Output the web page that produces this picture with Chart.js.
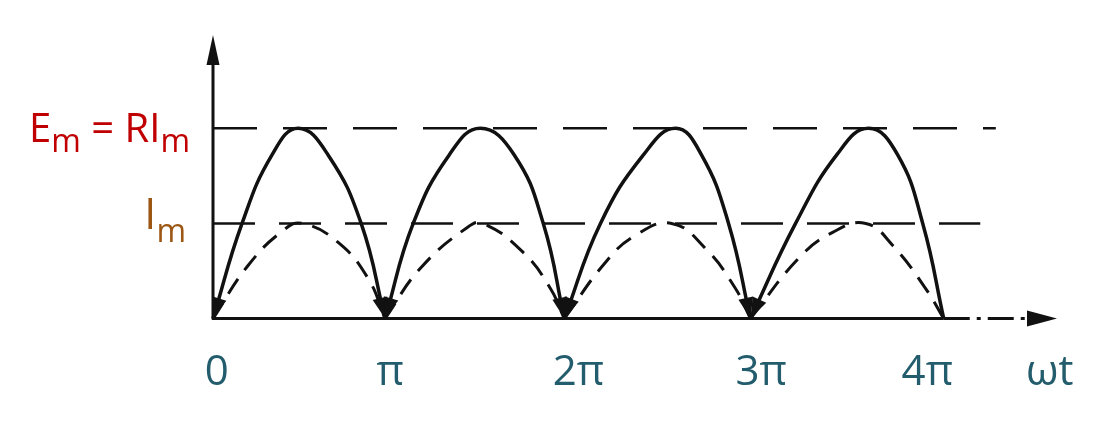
<!DOCTYPE html>
<html>
<head>
<meta charset="utf-8">
<script src="https://cdn.jsdelivr.net/npm/chart.js@4.4.0/dist/chart.umd.min.js"></script>
<style>
  html, body { margin: 0; padding: 0; background: #fff; }
</style>
</head>
<body>
<canvas id="chart" width="1117" height="431"></canvas>
<script>
// x in multiples of pi, y as a fraction of Em
// each arch starts and ends on its own zero point
var voltageX = [0, 0.159, 0.323, 0.466, 0.630, 0.811, 0.942,
  0.942, 1.096, 1.293, 1.463, 1.649, 1.808, 1.923,
  1.923, 2.121, 2.356, 2.532, 2.674, 2.822, 2.942,
  2.942, 3.189, 3.414, 3.589, 3.748, 3.885, 4.0];
var voltageY = [0, 0.5, 0.86, 1.0, 0.86, 0.5, 0,
  0, 0.5, 0.86, 1.0, 0.86, 0.5, 0,
  0, 0.5, 0.86, 1.0, 0.86, 0.5, 0,
  0, 0.5, 0.86, 1.0, 0.86, 0.5, 0];

var currentX = [0, 0.192, 0.384, 0.488, 0.685, 0.849, 0.942,
  0.942, 1.134, 1.392, 1.479, 1.699, 1.847, 1.923,
  1.923, 2.148, 2.312, 2.510, 2.696, 2.860, 2.942,
  2.942, 3.205, 3.392, 3.573, 3.721, 3.901, 4.0];
var currentY = [0, 0.279, 0.463, 0.5, 0.4, 0.211, 0,
  0, 0.263, 0.479, 0.5, 0.347, 0.158, 0,
  0, 0.295, 0.437, 0.5, 0.368, 0.158, 0,
  0, 0.316, 0.453, 0.5, 0.384, 0.158, 0];

var tickValues = [0.02, 0.97, 2.0, 3.0, 3.91, 4.58];
var tickLabels = ['0', 'π', '2π', '3π', '4π', 'ωt'];

var levelValues = [1, 0.5];
var levelEnds = [4.285, 4.2];
// alternating normal / subscript pieces
var levelLabels = [['E', 'm', ' = RI', 'm'], ['I', 'm']];

// cut a series into arches at its zero points (one dataset per arch)
function splitArches(xs, ys) {
  var arches = [], cur = [];
  xs.forEach(function(x, i) {
    cur.push({ x: x, y: ys[i] });
    if (ys[i] === 0 && cur.length > 1) { arches.push(cur); cur = []; }
  });
  return arches;
}

var voltageArches = splitArches(voltageX, voltageY);
var currentArches = splitArches(currentX, currentY);

var datasets = [];
datasets.push({
  label: 'Em',
  data: [{ x: 0, y: levelValues[0] }, { x: levelEnds[0], y: levelValues[0] }],
  borderColor: '#111', borderWidth: 2.5, borderDash: [44, 26], pointRadius: 0
});
datasets.push({
  label: 'Im',
  data: [{ x: 0, y: levelValues[1] }, { x: levelEnds[1], y: levelValues[1] }],
  borderColor: '#111', borderWidth: 2.5, borderDash: [42, 24], pointRadius: 0
});
currentArches.forEach(function(a) {
  datasets.push({
    label: 'i', data: a, borderColor: '#111', borderWidth: 3, borderDash: [18, 11],
    tension: 0.45, pointRadius: 0, clip: false
  });
});
voltageArches.forEach(function(a) {
  datasets.push({
    label: 'e', data: a, borderColor: '#111', borderWidth: 3.5,
    tension: 0.45, pointRadius: 0, clip: false, isVoltage: true
  });
});

var labelStyles = [
  { color: '#c00000', right: 190, main: 40, sub: 32, dy: 14, subDy: 10 },
  { color: '#9c5714', right: 186, main: 43, sub: 32, dy: 6, subDy: 13 }
];

var drawing = {
  id: 'drawing',
  beforeDatasetsDraw: function(chart) {
    var ctx = chart.ctx, xs = chart.scales.x, ys = chart.scales.y;
    var x0 = xs.getPixelForValue(0), y0 = ys.getPixelForValue(0);
    var top = chart.chartArea.top, right = chart.chartArea.right;
    var xEnd = xs.getPixelForValue(voltageX[voltageX.length - 1]);
    ctx.save();
    ctx.strokeStyle = '#111';
    ctx.fillStyle = '#111';
    ctx.lineWidth = 3;
    // vertical axis + arrow
    ctx.beginPath(); ctx.moveTo(x0, y0 + 1); ctx.lineTo(x0, top + 20); ctx.stroke();
    ctx.beginPath(); ctx.moveTo(x0, top); ctx.lineTo(x0 - 6.5, top + 30); ctx.lineTo(x0 + 6.5, top + 30); ctx.closePath(); ctx.fill();
    // horizontal axis, dash-dot past the last arch
    ctx.beginPath(); ctx.moveTo(x0 - 1, y0); ctx.lineTo(xEnd, y0); ctx.stroke();
    ctx.setLineDash([26, 7, 4, 7]);
    ctx.beginPath(); ctx.moveTo(xEnd, y0); ctx.lineTo(right - 28, y0); ctx.stroke();
    ctx.setLineDash([]);
    ctx.beginPath(); ctx.moveTo(right, y0); ctx.lineTo(right - 30, y0 - 8); ctx.lineTo(right - 30, y0 + 8); ctx.closePath(); ctx.fill();
    ctx.restore();
  },
  afterDatasetsDraw: function(chart) {
    var ctx = chart.ctx;
    function arrow(from, tip) {
      var dx = tip.x - from.x, dy = tip.y - from.y;
      var len = Math.sqrt(dx * dx + dy * dy);
      var ux = dx / len, uy = dy / len;
      var bx = tip.x - ux * 21, by = tip.y - uy * 21;
      ctx.beginPath();
      ctx.moveTo(tip.x, tip.y);
      ctx.lineTo(bx - uy * 7.5, by + ux * 7.5);
      ctx.lineTo(bx + uy * 7.5, by - ux * 7.5);
      ctx.closePath();
      ctx.fill();
    }
    ctx.save();
    ctx.fillStyle = '#111';
    var arches = [];
    chart.data.datasets.forEach(function(ds, i) {
      if (ds.isVoltage) arches.push(chart.getDatasetMeta(i).data);
    });
    arches.forEach(function(pts, k) {
      arrow(pts[1], pts[0]);
      if (k < arches.length - 1) arrow(pts[pts.length - 2], pts[pts.length - 1]);
    });
    ctx.restore();
  },
  afterDraw: function(chart) {
    var ctx = chart.ctx, ys = chart.scales.y;
    ctx.save();
    ctx.textBaseline = 'alphabetic';
    ctx.textAlign = 'left';
    levelLabels.forEach(function(parts, k) {
      var st = labelStyles[k];
      var py = ys.getPixelForValue(levelValues[k]) + st.dy;
      var widths = parts.map(function(p, j) {
        ctx.font = (j % 2 ? st.sub : st.main) + 'px "Open Sans"';
        return ctx.measureText(p).width;
      });
      var x = st.right - widths.reduce(function(a, b) { return a + b; }, 0);
      ctx.fillStyle = st.color;
      parts.forEach(function(p, j) {
        ctx.font = (j % 2 ? st.sub : st.main) + 'px "Open Sans"';
        ctx.fillText(p, x, py + (j % 2 ? st.subDy : 0));
        x += widths[j];
      });
    });
    ctx.restore();
  }
};

var ctx = document.getElementById('chart').getContext('2d');
var chart = new Chart(ctx, {
  type: 'line',
  data: { datasets: datasets },
  options: {
    responsive: false,
    animation: false,
    layout: { padding: { left: 213, right: 60, top: 35, bottom: 4 } },
    plugins: { legend: { display: false }, tooltip: { enabled: false } },
    scales: {
      x: {
        type: 'linear',
        min: 0,
        max: 4.62,
        grid: { display: false, drawTicks: false },
        border: { display: false },
        afterBuildTicks: function(scale) {
          scale.ticks = tickValues.map(function(v) { return { value: v }; });
        },
        ticks: {
          autoSkip: false,
          maxRotation: 0,
          padding: 29,
          color: '#235c6c',
          font: { family: 'Open Sans', size: 42 },
          callback: function(value, index) { return tickLabels[index]; }
        }
      },
      y: {
        type: 'linear',
        min: 0,
        max: 1.49,
        display: false
      }
    }
  },
  plugins: [drawing]
});
</script>
</body>
</html>
